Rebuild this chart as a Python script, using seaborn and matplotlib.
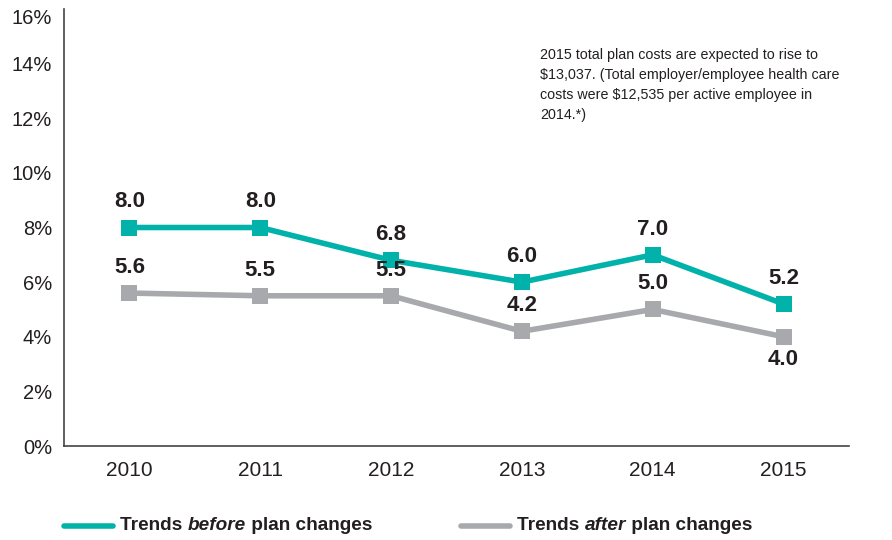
import matplotlib
matplotlib.use("Agg")
import matplotlib.pyplot as plt
import matplotlib.transforms as mtransforms
import seaborn as sns
import pandas as pd
from matplotlib.ticker import FuncFormatter

years = ["2010", "2011", "2012", "2013", "2014", "2015"]
before = [8.0, 8.0, 6.8, 6.0, 7.0, 5.2]
after = [5.6, 5.5, 5.5, 4.2, 5.0, 4.0]
yticks = [0, 2, 4, 6, 8, 10, 12, 14, 16]
note = ("2015 total plan costs are expected to rise to\n"
        "$13,037. (Total employer/employee health care\n"
        "costs were $12,535 per active employee in\n"
        "2014.*)")

TEAL = "#00B2A9"
GRAY = "#A7A9AC"
DARK = "#231F20"

sns.set_theme(style="white")
plt.rcParams["font.family"] = ["Liberation Sans", "DejaVu Sans"]

df = pd.DataFrame({
    "x": list(range(len(years))) * 2,
    "value": before + after,
    "series": ["before"] * len(years) + ["after"] * len(years),
})

fig = plt.figure(figsize=(8.92, 5.4), dpi=100)
ax = fig.add_axes([64 / 892, 1 - 446 / 540, (849 - 64) / 892, (446 - 9) / 540])

sns.lineplot(data=df, x="x", y="value", hue="series", style="series",
             palette={"before": TEAL, "after": GRAY},
             markers={"before": "s", "after": "s"}, dashes=False,
             linewidth=4, markersize=12, markeredgewidth=0,
             legend=False, ax=ax, hue_order=["after", "before"])

ax.set_xlim(-0.5, 5.5)
ax.set_ylim(0, 16)
ax.set_xticks(range(len(years)))
ax.set_xticklabels(years)
ax.set_yticks(yticks)
ax.yaxis.set_major_formatter(FuncFormatter(lambda v, p: f"{int(v)}%"))
ax.set_xlabel("")
ax.set_ylabel("")
ax.tick_params(axis="x", length=0, labelsize=15, colors=DARK, pad=11)
ax.tick_params(axis="y", length=0, labelsize=14.5, colors=DARK, pad=8.5)
for s in ["top", "right"]:
    ax.spines[s].set_visible(False)
for s in ["left", "bottom"]:
    ax.spines[s].set_color("#444444")
    ax.spines[s].set_linewidth(1.2)

# top tick label sits slightly lower in the reference
fig.canvas.draw()
top_lbl = ax.get_yticklabels()[-1]
top_lbl.set_transform(top_lbl.get_transform() +
                      mtransforms.ScaledTranslation(0, -8 / 100, fig.dpi_scale_trans))

for i, v in enumerate(before):
    ax.annotate(f"{v:.1f}", (i, v), xytext=(0, 11), textcoords="offset points",
                ha="center", va="bottom", fontsize=16, fontweight="bold", color=DARK)
for i, v in enumerate(after):
    if i == len(after) - 1:
        ax.annotate(f"{v:.1f}", (i, v), xytext=(0, -9), textcoords="offset points",
                    ha="center", va="top", fontsize=16, fontweight="bold", color=DARK)
    else:
        ax.annotate(f"{v:.1f}", (i, v), xytext=(0, 11), textcoords="offset points",
                    ha="center", va="bottom", fontsize=16, fontweight="bold", color=DARK)

fig.text(540 / 892, 1 - 48 / 540, note, ha="left", va="top", fontsize=10.3,
         color=DARK, linespacing=1.55)

# Legend drawn manually (mixed italic)
fig.canvas.draw()
renderer = fig.canvas.get_renderer()
ly = 1 - 526 / 540


def legend_item(x0, color, parts):
    fig.add_artist(plt.Line2D([x0 / 892, (x0 + 49) / 892], [ly, ly], color=color,
                              linewidth=4, solid_capstyle="round", transform=fig.transFigure))
    x = (x0 + 56) / 892
    for txt, style in parts:
        t = fig.text(x, ly, txt, ha="left", va="center", fontsize=13.7, fontweight="bold",
                     fontstyle=style, color=DARK)
        bb = t.get_window_extent(renderer=renderer)
        x += bb.width / fig.bbox.width


legend_item(64, TEAL, [("Trends ", "normal"), ("before", "italic"), (" plan changes", "normal")])
legend_item(461, GRAY, [("Trends ", "normal"), ("after", "italic"), (" plan changes", "normal")])

fig.savefig("out.png", dpi=100)
